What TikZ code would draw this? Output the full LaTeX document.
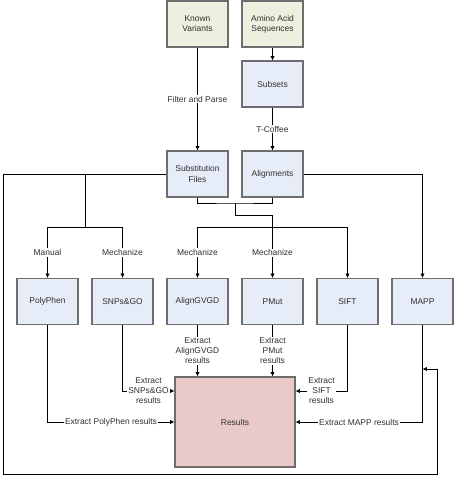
\documentclass[tikz,border=0pt]{standalone}
\usepackage{fontspec}
\setmainfont{Liberation Sans}
\usetikzlibrary{arrows.meta, calc}
\definecolor{InputGreen}{HTML}{EBF1DE}
\definecolor{ToolBlue}{HTML}{E6EDF8}
\definecolor{ResultPink}{HTML}{EACAC8}
\definecolor{EdgeGray}{HTML}{6E6E6E}
\definecolor{TextGray}{HTML}{303030}
\tikzset{
  greenbox/.style={draw=EdgeGray, line width=0.9pt, fill=InputGreen, align=center, minimum width=1.83cm, minimum height=1.38cm, inner sep=2pt, font=\fontsize{7.2}{8.6}\selectfont, text=TextGray},
  bluebox/.style={draw=EdgeGray, line width=0.9pt, fill=ToolBlue, align=center, minimum width=1.83cm, minimum height=1.38cm, inner sep=2pt, font=\fontsize{7.2}{8.6}\selectfont, text=TextGray},
  redbox/.style={draw=EdgeGray, line width=0.9pt, fill=ResultPink, align=center, minimum width=3.6cm, minimum height=2.7cm, inner sep=2pt, font=\fontsize{7.2}{8.6}\selectfont, text=TextGray},
  lbl/.style={fill=white, inner sep=1pt, align=center, font=\fontsize{7.2}{8.6}\selectfont, text=TextGray},
  link/.style={line width=0.6pt, draw=black},
  arrow/.style={-{Latex[length=1.3mm, width=1.3mm]}, line width=0.6pt, draw=black}
}

\begin{document}
\begin{tikzpicture}
\useasboundingbox (0,0) rectangle (13.65,-14.82);
% inputs
\node[greenbox] (kv) at (5.925,-0.72) {Known\\Variants};
\node[greenbox] (aas) at (8.175,-0.72) {Amino Acid\\Sequences};
\node[bluebox] (subs) at (8.175,-2.52) {Subsets};
\node[bluebox] (sf) at (5.925,-5.22) {Substitution\\Files};
\node[bluebox] (al) at (8.175,-5.22) {Alignments};
% predictors
\node[bluebox] (pp) at (1.425,-9.045) {PolyPhen};
\node[bluebox] (sg) at (3.675,-9.045) {SNPs\&GO};
\node[bluebox] (ag) at (5.925,-9.045) {AlignGVGD};
\node[bluebox] (pm) at (8.175,-9.045) {PMut};
\node[bluebox] (sift) at (10.425,-9.045) {SIFT};
\node[bluebox] (mapp) at (12.675,-9.045) {MAPP};
\node[redbox] (res) at (7.05,-12.66) {Results};

\draw[arrow] (kv) -- node[lbl]{Filter and Parse} (sf);
\draw[arrow] (aas) -- (subs);
\draw[arrow] (subs) -- node[lbl]{T-Coffee} (al);

% loop around the whole chart
\coordinate (loopin) at (12.675,-11.07);
\draw[arrow] (sf.west) -| (0.09,-14.22) -| (13.11,-11.07) -- (loopin);

% manual / mechanized from substitution files
\coordinate (split) at (2.55,-5.22);
\coordinate (fork) at (2.55,-6.81);
\draw[link] (split) -- (fork);
\draw[arrow] (fork) -| node[lbl, pos=0.75]{Manual} (pp);
\draw[arrow] (fork) -| node[lbl, pos=0.75]{Mechanize} (sg);

% files + alignments
\coordinate (join) at (7.05,-6.09);
\coordinate (bend) at (7.05,-6.45);
\coordinate (fork2) at (8.175,-6.81);
\draw[link] (sf.south) |- (join) -| (al.south);
\draw[arrow] (join) -- (bend) -| node[lbl, pos=0.8]{Mechanize} (pm);
\draw[arrow] (fork2) -| node[lbl, pos=0.75]{Mechanize} (ag);
\draw[arrow] (fork2) -| (sift);
\draw[arrow] (al.east) -| (mapp);

% collect results
\draw[arrow] (pp) |- node[lbl, pos=0.75]{Extract PolyPhen results} (res.west);
\draw[arrow] (sg) |- node[lbl, pos=0.75]{Extract\\SNPs\&GO\\results} ($(res.west)+(0,0.93)$);
\draw[arrow] (ag) -- node[lbl]{Extract\\AlignGVGD\\results} (ag |- res.north);
\draw[arrow] (pm) -- node[lbl]{Extract\\PMut\\results} (pm |- res.north);
\draw[arrow] (sift) |- node[lbl, pos=0.75]{Extract\\SIFT\\results} ($(res.east)+(0,0.93)$);
\draw[arrow] (mapp) |- node[lbl, pos=0.75]{Extract MAPP results} (res.east);
\end{tikzpicture}
\end{document}
